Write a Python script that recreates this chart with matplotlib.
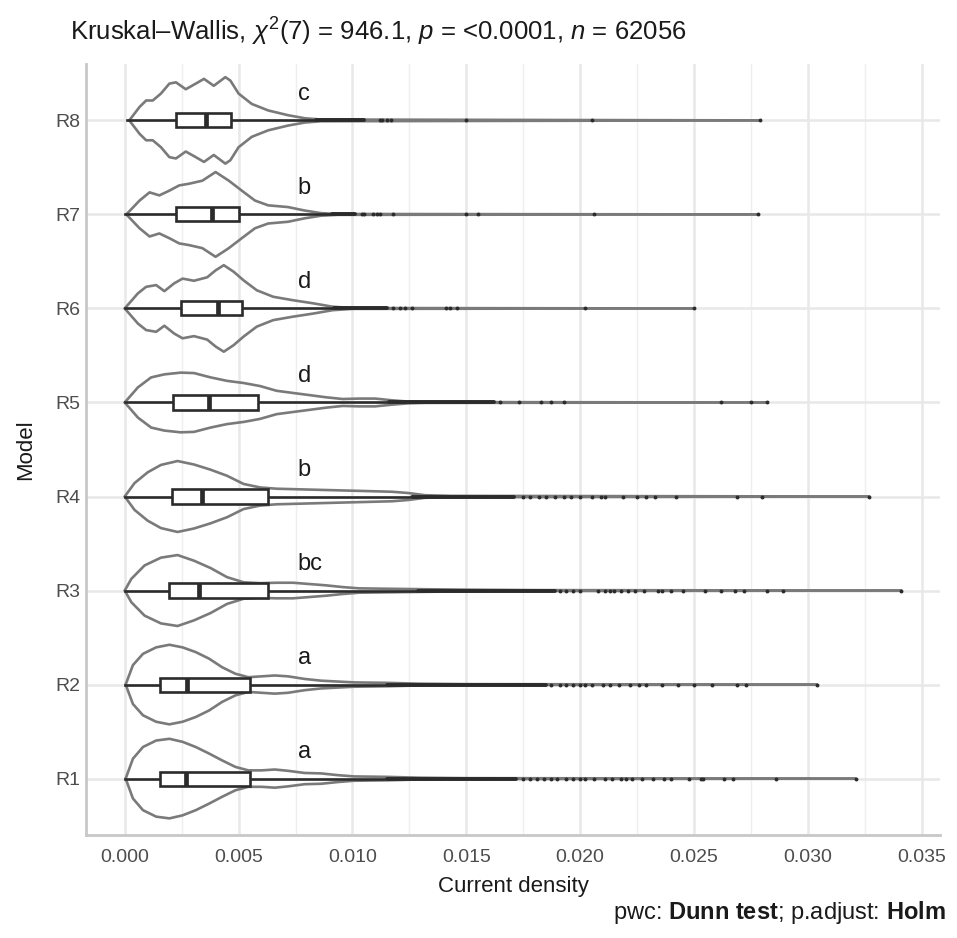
import numpy as np
import matplotlib
matplotlib.use("Agg")
import matplotlib.pyplot as plt

plt.rcParams["font.family"] = ["Liberation Sans", "DejaVu Sans"]
plt.rcParams["mathtext.fontset"] = "custom"
plt.rcParams["mathtext.rm"] = "Liberation Sans"
plt.rcParams["mathtext.it"] = "Liberation Sans:italic"
plt.rcParams["mathtext.bf"] = "Liberation Sans:bold"

# ------------------------------------------------------------
# DATA (current density values in units of 1e-3)
# ------------------------------------------------------------
models = ["R1", "R2", "R3", "R4", "R5", "R6", "R7", "R8"]
letters = ["a", "a", "bc", "b", "d", "d", "b", "c"]

# box stats: lower whisker, Q1, median, Q3, upper whisker
box_lo  = [0.0, 0.0, 0.0, 0.0, 0.0, 0.0, 0.0, 0.1]
box_q1  = [1.55, 1.55, 1.96, 2.07, 2.13, 2.49, 2.27, 2.27]
box_med = [2.68, 2.75, 3.26, 3.41, 3.70, 4.09, 3.83, 3.57]
box_q3  = [5.48, 5.48, 6.30, 6.27, 5.87, 5.14, 5.00, 4.68]
box_hi  = [11.4, 11.4, 12.8, 12.5, 11.5, 9.1, 9.0, 8.3]

# dense runs of overlapping outliers (start, end)
dense_R1 = (11.5, 17.2)
dense_R2 = (11.5, 18.5)
dense_R3 = (12.9, 18.9)
dense_R4 = (12.6, 17.1)
dense_R5 = (11.6, 16.2)
dense_R6 = (9.2, 11.5)
dense_R7 = (9.1, 10.1)
dense_R8 = (8.4, 10.5)

# isolated outliers
out_R1 = [17.5, 17.8, 18.1, 18.4, 18.7, 19.0, 19.4, 19.7, 20.0, 20.2, 20.6, 21.1, 21.4,
          21.8, 22.0, 22.3, 22.7, 23.2, 23.7, 24.0, 24.8, 25.3, 25.4, 26.3, 26.7, 28.6, 32.1]
out_R2 = [18.7, 19.1, 19.4, 19.7, 20.0, 20.2, 20.5, 21.0, 21.3, 21.7, 22.2, 22.6, 22.9,
          23.6, 24.3, 25.0, 25.8, 26.9, 27.3, 30.4]
out_R3 = [19.1, 19.4, 19.7, 20.0, 20.8, 21.1, 21.3, 21.5, 21.8, 22.1, 22.4, 22.8, 23.4,
          23.6, 24.0, 24.5, 25.5, 26.2, 26.8, 27.2, 28.2, 28.9, 34.1]
out_R4 = [17.5, 17.8, 18.2, 18.5, 18.9, 19.3, 19.6, 20.0, 20.5, 20.9, 21.1, 21.9, 22.5,
          22.9, 23.3, 24.2, 26.9, 28.0, 32.7]
out_R5 = [16.5, 17.3, 18.3, 18.7, 19.3, 26.2, 27.5, 28.2]
out_R6 = [11.8, 12.1, 12.3, 12.6, 14.1, 14.3, 14.6, 20.2, 25.0]
out_R7 = [10.4, 10.5, 10.9, 11.1, 11.2, 11.8, 15.0, 15.5, 20.6, 27.8]
out_R8 = [11.2, 11.3, 11.5, 11.7, 15.0, 20.5, 27.9]

# violin density profiles (relative density at given current density)
vx_R1 = [0.04, 0.36, 0.8, 1.38, 1.96, 2.54, 3.12, 3.7, 4.28, 4.86, 5.43, 6.01, 6.59, 7.17,
         7.9, 8.62, 9.35, 10.07, 11.5, 13.0, 15.0]
vd_R1 = [0, 0.46, 0.73, 0.88, 0.92, 0.85, 0.73, 0.58, 0.42, 0.27, 0.19, 0.19, 0.21, 0.18,
         0.13, 0.12, 0.08, 0.05, 0.04, 0.02, 0.01]
vx_R2 = [0.04, 0.36, 0.8, 1.38, 1.96, 2.54, 3.12, 3.7, 4.28, 4.86, 5.43, 6.01, 6.59, 7.17,
         7.9, 8.62, 10.07, 11.52, 12.97, 15.0]
vd_R2 = [0, 0.45, 0.71, 0.86, 0.92, 0.86, 0.75, 0.6, 0.4, 0.25, 0.17, 0.19, 0.21, 0.19,
         0.13, 0.09, 0.05, 0.04, 0.02, 0.01]
vx_R3 = [0.0, 0.29, 0.87, 1.59, 2.32, 3.04, 3.77, 4.49, 5.22, 5.94, 6.67, 7.39, 8.12, 8.84,
         9.57, 10.3, 11.74, 13.2, 15.0, 18.0]
vd_R3 = [0, 0.27, 0.58, 0.76, 0.82, 0.69, 0.52, 0.31, 0.19, 0.17, 0.18, 0.18, 0.15, 0.12,
         0.08, 0.05, 0.04, 0.03, 0.02, 0.01]
vx_R4 = [0.0, 0.43, 1.01, 1.59, 2.32, 3.04, 3.77, 4.49, 5.22, 5.94, 6.67, 7.39, 8.84, 10.3,
         11.74, 12.46, 13.19, 14.35]
vd_R4 = [0, 0.31, 0.56, 0.73, 0.82, 0.74, 0.62, 0.48, 0.29, 0.21, 0.18, 0.17, 0.15, 0.13,
         0.11, 0.08, 0.03, 0.015]
vx_R5 = [0.0, 0.58, 1.16, 1.74, 2.46, 3.04, 3.77, 4.49, 5.22, 5.94, 6.67, 7.39, 8.12, 8.84,
         9.57, 10.3, 11.0, 11.74, 12.46, 13.19]
vd_R5 = [0, 0.35, 0.58, 0.65, 0.69, 0.68, 0.58, 0.5, 0.45, 0.38, 0.27, 0.22, 0.17, 0.12,
         0.08, 0.09, 0.09, 0.05, 0.02, 0.01]
vx_R6 = [0.0, 0.58, 0.94, 1.38, 1.74, 2.17, 2.54, 3.04, 3.62, 3.99, 4.35, 4.78, 5.22, 5.8,
         6.52, 7.39, 8.26, 9.13, 10.0]
vd_R6 = [0, 0.35, 0.5, 0.54, 0.4, 0.58, 0.69, 0.64, 0.72, 0.88, 1.0, 0.85, 0.65, 0.42,
         0.27, 0.19, 0.12, 0.04, 0.01]
vx_R7 = [0.07, 0.65, 1.09, 1.52, 1.96, 2.39, 2.83, 3.41, 3.99, 4.57, 5.14, 5.72, 6.3, 7.17,
         7.9, 8.62, 9.35]
vd_R7 = [0, 0.32, 0.51, 0.44, 0.55, 0.67, 0.71, 0.78, 0.98, 0.78, 0.55, 0.32, 0.21, 0.17,
         0.09, 0.03, 0.01]
vx_R8 = [0.2, 0.65, 0.94, 1.23, 1.59, 1.96, 2.25, 2.68, 3.12, 3.48, 3.91, 4.42, 4.64, 5.0,
         5.58, 6.3, 7.17, 7.9, 8.62]
vd_R8 = [0, 0.31, 0.46, 0.46, 0.62, 0.85, 0.88, 0.72, 0.85, 0.96, 0.8, 1.0, 0.92, 0.62,
         0.38, 0.23, 0.12, 0.05, 0.02]

violin_x = [vx_R1, vx_R2, vx_R3, vx_R4, vx_R5, vx_R6, vx_R7, vx_R8]
violin_d = [vd_R1, vd_R2, vd_R3, vd_R4, vd_R5, vd_R6, vd_R7, vd_R8]
outliers = [out_R1, out_R2, out_R3, out_R4, out_R5, out_R6, out_R7, out_R8]
dense = [dense_R1, dense_R2, dense_R3, dense_R4, dense_R5, dense_R6, dense_R7, dense_R8]

UNIT = 1e-3
VIOLIN_HALF = 0.46   # half width of the widest violin (y units)
BOX_HALF = 0.075

# ------------------------------------------------------------
# PLOT
# ------------------------------------------------------------
fig = plt.figure(figsize=(9.57, 9.38), dpi=100)
ax = fig.add_axes([0.0899, 0.1098, 0.8922, 0.822])

grey_line = "#7a7a7a"
dark = "#2b2b2b"

for i, m in enumerate(models):
    y = i + 1
    out = np.array(outliers[i]) * UNIT
    xmax = max(out.max(), box_hi[i] * UNIT)

    # violin outline, tail runs out to the largest value
    vx = np.append(np.array(violin_x[i]) * UNIT, xmax)
    vd = np.append(np.array(violin_d[i]), 0.0) * VIOLIN_HALF
    ax.plot(vx, y + vd, color=grey_line, lw=1.9, zorder=3, solid_capstyle="round")
    ax.plot(vx, y - vd, color=grey_line, lw=1.9, zorder=3, solid_capstyle="round")

    # whisker
    ax.plot([box_lo[i] * UNIT, box_hi[i] * UNIT], [y, y], color=dark, lw=1.9, zorder=4)

    # box
    q1, q3 = box_q1[i] * UNIT, box_q3[i] * UNIT
    ax.add_patch(plt.Rectangle((q1, y - BOX_HALF), q3 - q1, 2 * BOX_HALF,
                               facecolor="white", edgecolor=dark, lw=1.9, zorder=5))
    ax.plot([box_med[i] * UNIT] * 2, [y - BOX_HALF, y + BOX_HALF], color=dark, lw=3.4,
            zorder=6, solid_capstyle="butt")

    # outliers
    d0, d1 = dense[i]
    ax.plot([d0 * UNIT, d1 * UNIT], [y, y], color=dark, lw=2.8, zorder=6,
            solid_capstyle="round")
    ax.plot(out, np.full(len(out), y), "o", color=dark, ms=2.8, mew=0, zorder=7)

    # letters
    ax.text(0.0076, y + 0.28, letters[i], ha="left", va="center",
            fontsize=17, color="#1a1a1a", zorder=8)

ax.set_xlim(-0.0017, 0.0358)
ax.set_ylim(0.4, 8.6)
ax.set_yticks(range(1, 9))
ax.set_yticklabels(models)
ax.set_xticks(np.arange(0, 0.0351, 0.005))
ax.set_xticklabels([f"{v:.3f}" for v in np.arange(0, 0.0351, 0.005)])
ax.set_xticks(np.arange(0.0025, 0.036, 0.005), minor=True)

ax.grid(which="major", color="#e8e8e8", lw=1.8, zorder=0)
ax.grid(which="minor", axis="x", color="#efefef", lw=1.0, zorder=0)
ax.set_axisbelow(True)

for s in ["top", "right"]:
    ax.spines[s].set_visible(False)
for s in ["left", "bottom"]:
    ax.spines[s].set_color("#c8c8c8")
    ax.spines[s].set_linewidth(2.0)

ax.tick_params(axis="both", which="both", length=0, labelsize=14, labelcolor="#4d4d4d")
ax.tick_params(axis="x", pad=10)
ax.tick_params(axis="y", pad=4)

ax.set_xlabel("Current density", fontsize=16, color="#1a1a1a", labelpad=7)
ax.set_ylabel("Model", fontsize=16, color="#1a1a1a", labelpad=14)

fig.text(0.073, 0.966,
         r"Kruskal–Wallis, $\chi^2$(7) = 946.1, $p$ = <0.0001, $n$ = 62056",
         fontsize=18.5, ha="left", va="center", color="#1a1a1a")
fig.text(0.988, 0.027,
         r"pwc: $\mathbf{Dunn\ test}$; p.adjust: $\mathbf{Holm}$",
         fontsize=17, ha="right", va="center", color="#1a1a1a")

fig.savefig("out.png", dpi=100)
